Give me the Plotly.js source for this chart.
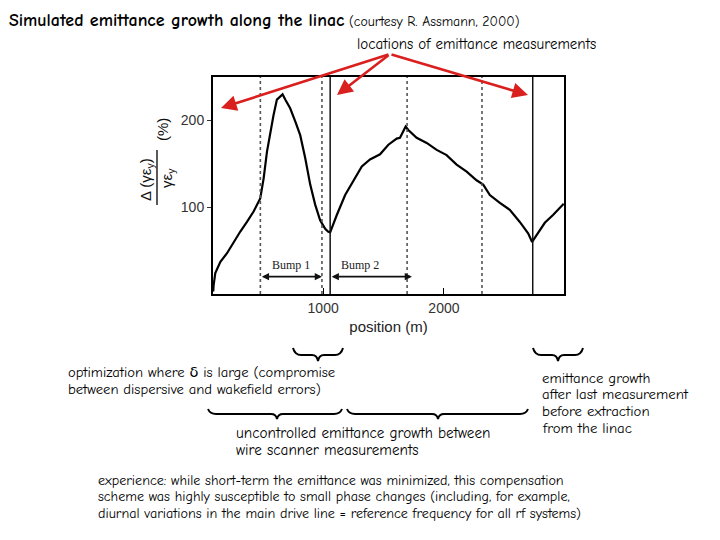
<!DOCTYPE html>
<html>
<head>
<meta charset="utf-8">
<script src="https://cdn.plot.ly/plotly-3.0.1.min.js"></script>
<style>
  body { margin: 0; background: #fff; }
  #chart { width: 720px; height: 540px; }
</style>
</head>
<body>
<div id="chart"></div>
<script>
// position along the linac (m) and simulated emittance growth (%)
var posM = [90, 93, 107, 149, 204, 259, 314, 369, 424, 479, 507, 535, 562, 589, 617, 645, 664, 686, 727, 769,
  810, 851, 893, 934, 975, 1017, 1040, 1058, 1080, 1113, 1182, 1250, 1320, 1388, 1471, 1540, 1609, 1636,
  1664, 1683, 1705, 1774, 1857, 1940, 2022, 2105, 2188, 2270, 2325, 2380, 2463, 2545, 2628, 2697, 2730,
  2767, 2835, 2903, 2973, 2992];
var emitGrowth = [3, 10, 24, 37, 47, 60, 72, 83, 95, 110, 133, 164, 187, 206, 224, 228, 230, 224, 214, 199,
  183, 157, 126, 103, 85, 75, 72, 71, 80, 91, 114, 131, 147, 155, 161, 172, 179, 180,
  189, 193, 189, 180, 174, 166, 160, 149, 141, 131, 126, 114, 105, 97, 83, 70, 60,
  68, 82, 91, 101, 104];

// dashed lines = bump boundaries, solid lines = emittance measurements
var dashedAt = [480, 990, 1695, 2315];
var solidAt = [1058, 2735];

// bumps: name, start, end
var bumpNames = ['Bump 1', 'Bump 2'];
var bumpStart = [480, 1058];
var bumpEnd = [990, 1735];

var xTicks = [1000, 2000];
var yTicks = [100, 200];

// slide texts
var optimLines = ['optimization where δ is large (compromise', 'between dispersive and wakefield errors)'];
var uncontrolledLines = ['uncontrolled emittance growth between', 'wire scanner measurements'];
var afterLines = ['emittance growth', 'after last measurement', 'before extraction', 'from the linac'];
var experienceLines = [
  'experience: while short-term the emittance was minimized, this compensation',
  'scheme was highly susceptible to small phase changes (including, for example,',
  'diurnal variations in the main drive line = reference frequency for all rf systems)'
];

// page pixel -> paper fraction (plot area is 213..564 x 77..294)
function fx(px) { return (px - 213) / 351; }
function fy(py) { return (294 - py) / 217; }

var handFont = 'Comic Sans MS, Comic Neue, DejaVu Sans, sans-serif';
var plotFont = 'Liberation Sans, Arial, sans-serif';

var shapes = [];
dashedAt.forEach(function (v) {
  shapes.push({type: 'line', xref: 'x', yref: 'paper', x0: v, x1: v, y0: 0, y1: 1,
    line: {color: '#555', width: 1.6, dash: '3px,3px'}});
});
solidAt.forEach(function (v) {
  shapes.push({type: 'line', xref: 'x', yref: 'paper', x0: v, x1: v, y0: 0, y1: 1,
    line: {color: '#111', width: 1.5}});
});

// curly brace opening upward, tip pointing down
function brace(x0, x1, tip, yTop, yMid, yTip) {
  var p = 'M' + fx(x0) + ',' + fy(yTop) +
    ' Q' + fx(x0 + 2) + ',' + fy(yMid) + ' ' + fx(x0 + 8) + ',' + fy(yMid) +
    ' L' + fx(tip - 6) + ',' + fy(yMid) +
    ' Q' + fx(tip - 1) + ',' + fy(yMid) + ' ' + fx(tip) + ',' + fy(yTip) +
    ' Q' + fx(tip + 1) + ',' + fy(yMid) + ' ' + fx(tip + 6) + ',' + fy(yMid) +
    ' L' + fx(x1 - 8) + ',' + fy(yMid) +
    ' Q' + fx(x1 - 2) + ',' + fy(yMid) + ' ' + fx(x1) + ',' + fy(yTop);
  return {type: 'path', xref: 'paper', yref: 'paper', path: p, line: {color: '#000', width: 2}};
}
shapes.push(brace(293, 343, 318, 348, 355, 361));
shapes.push(brace(533, 583, 558, 348, 355, 361));
shapes.push(brace(208, 342, 277, 409, 414, 419));
shapes.push(brace(347, 528, 438, 409, 414, 419));

// fraction bar of the y label
shapes.push({type: 'line', xref: 'paper', yref: 'paper', x0: fx(157), x1: fx(157), y0: fy(150), y1: fy(205),
  line: {color: '#000', width: 1.3}});

var annotations = [];

// bump arrows
for (var i = 0; i < bumpNames.length; i++) {
  annotations.push({xref: 'x', yref: 'y', axref: 'x', ayref: 'y', x: bumpEnd[i], y: 20,
    ax: bumpStart[i], ay: 20, text: '', showarrow: true, arrowside: 'end+start',
    arrowhead: 2, arrowsize: 0.9, arrowwidth: 1.6, arrowcolor: '#111', standoff: 0, startstandoff: 0});
  annotations.push({xref: 'x', yref: 'y', x: (bumpStart[i] + bumpEnd[i]) / 2 + (i === 1 ? -90 : 0), y: 33,
    text: bumpNames[i], showarrow: false,
    font: {family: 'Liberation Serif, Times New Roman, serif', size: 12, color: '#222'}});
}

// red arrows to the measurement locations
var tail = [390, 54];
[[221, 108], [337, 95], [528, 95]].forEach(function (t) {
  annotations.push({xref: 'paper', yref: 'paper', x: fx(t[0]), y: fy(t[1]),
    axref: 'pixel', ayref: 'pixel', ax: tail[0] - t[0], ay: tail[1] - t[1],
    text: '', showarrow: true, arrowhead: 2, arrowsize: 1.2, arrowwidth: 2.6, arrowcolor: '#d9201e',
    standoff: 0, startstandoff: 0});
});

function note(px, py, text, size) {
  return {xref: 'paper', yref: 'paper', x: fx(px), y: fy(py), xanchor: 'left', yanchor: 'middle',
    align: 'left', showarrow: false, text: text, borderpad: 0,
    font: {family: handFont, size: size, color: '#000'}};
}
function block(px, py0, step, lines, size) {
  lines.forEach(function (t, k) { annotations.push(note(px, py0 + k * step, t, size)); });
}

annotations.push(note(8, 20, '<b>Simulated emittance growth along the linac</b>', 17.9));
annotations.push(note(348, 21, '(courtesy R. Assmann, 2000)', 13.8));
annotations.push(note(356, 44, 'locations of emittance measurements', 15));
block(67, 372, 17, optimLines, 14.6);
block(235, 433, 16.5, uncontrolledLines, 15.2);
block(541, 378, 16.7, afterLines, 14.8);
block(97, 480, 16.8, experienceLines, 14.1);

// rotated y-axis label: Δ(γε_y) / γε_y (%)
var labFont = {family: plotFont, size: 15, color: '#111'};
function rot(px, py, text) {
  return {xref: 'paper', yref: 'paper', x: fx(px), y: fy(py), xanchor: 'center', yanchor: 'middle',
    textangle: -90, showarrow: false, text: text, font: labFont};
}
annotations.push(rot(146, 180, 'Δ (γε<sub>y</sub>)'));
annotations.push(rot(167, 178, 'γε<sub>y</sub>'));
annotations.push(rot(162, 130, '(%)'));

var trace = {
  x: posM,
  y: emitGrowth,
  type: 'scatter',
  mode: 'lines',
  line: {color: '#000', width: 2.2},
  hoverinfo: 'skip'
};

var layout = {
  width: 720,
  height: 540,
  margin: {l: 213, r: 156, t: 77, b: 246},
  paper_bgcolor: '#fff',
  plot_bgcolor: '#fff',
  showlegend: false,
  xaxis: {
    range: [88, 2994],
    tickvals: xTicks,
    ticktext: xTicks.map(String),
    ticks: 'inside',
    ticklen: 6,
    tickcolor: '#000',
    showgrid: false,
    zeroline: false,
    showline: true,
    mirror: true,
    linecolor: '#000',
    linewidth: 2,
    tickfont: {family: plotFont, size: 14, color: '#333'},
    title: {text: 'position (m)', font: {family: plotFont, size: 15, color: '#222'}, standoff: 7}
  },
  yaxis: {
    range: [0, 250],
    tickvals: yTicks,
    ticktext: yTicks.map(String),
    ticks: 'outside',
    ticklen: 4,
    tickcolor: '#333',
    showgrid: false,
    zeroline: false,
    showline: true,
    mirror: true,
    linecolor: '#000',
    linewidth: 2,
    tickfont: {family: plotFont, size: 14, color: '#333'}
  },
  shapes: shapes,
  annotations: annotations
};

Plotly.newPlot('chart', [trace], layout, {displayModeBar: false, staticPlot: true});
</script>
</body>
</html>
